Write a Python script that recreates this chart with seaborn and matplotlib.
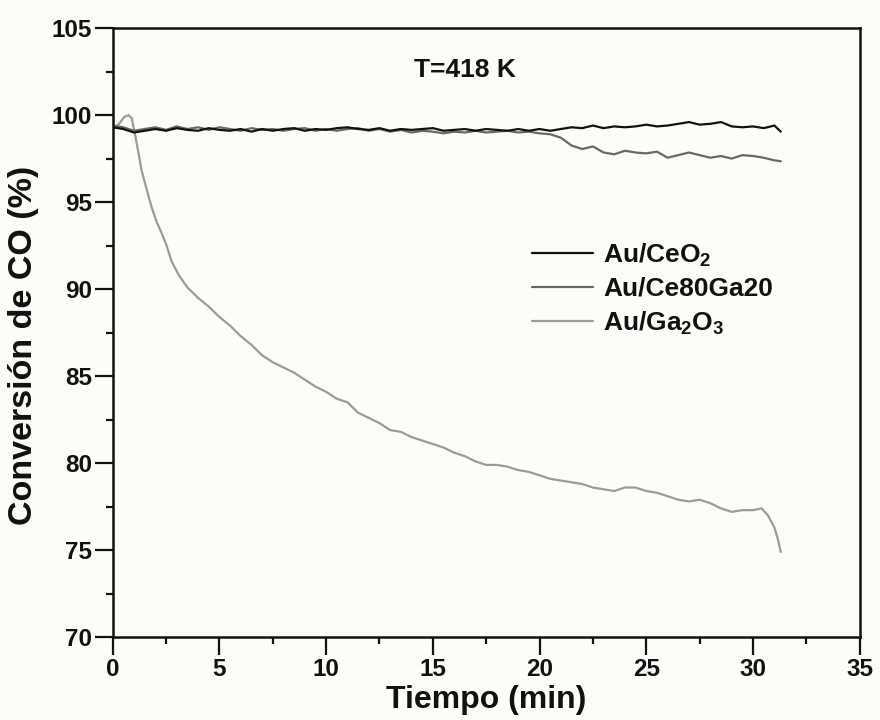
import numpy as np
import pandas as pd
import seaborn as sns
import matplotlib.pyplot as plt
from matplotlib.ticker import MultipleLocator
from matplotlib.lines import Line2D

########## Data

grid_time = list(np.arange(0, 31.01, 0.5)) + [31.3]

ceo2_conv = [99.3, 99.2, 99.0, 99.1, 99.2, 99.1, 99.25, 99.15, 99.1, 99.25,
             99.15, 99.1, 99.2, 99.05, 99.2, 99.1, 99.2, 99.25, 99.1, 99.2,
             99.15, 99.25, 99.3, 99.2, 99.15, 99.25, 99.1, 99.2, 99.15, 99.2,
             99.25, 99.1, 99.15, 99.2, 99.1, 99.2, 99.15, 99.1, 99.2, 99.1,
             99.2, 99.1, 99.2, 99.3, 99.25, 99.4, 99.25, 99.35, 99.3, 99.35,
             99.45, 99.35, 99.4, 99.5, 99.6, 99.45, 99.5, 99.6, 99.35, 99.3,
             99.35, 99.25, 99.4, 99.05]

ce80ga20_conv = [99.4, 99.3, 99.1, 99.2, 99.3, 99.15, 99.35, 99.2, 99.3, 99.15,
                 99.3, 99.2, 99.1, 99.25, 99.15, 99.2, 99.1, 99.2, 99.25, 99.1,
                 99.2, 99.1, 99.2, 99.25, 99.1, 99.2, 99.05, 99.15, 99.0, 99.1,
                 99.05, 98.95, 99.05, 99.0, 99.1, 99.0, 99.05, 99.1, 99.0, 99.05,
                 98.95, 98.9, 98.7, 98.25, 98.05, 98.2, 97.85, 97.75, 97.95, 97.85,
                 97.8, 97.9, 97.55, 97.7, 97.85, 97.7, 97.55, 97.65, 97.5, 97.7,
                 97.65, 97.55, 97.4, 97.35]

ga2o3_time = [0, 0.3, 0.55, 0.75, 0.9, 1.03, 1.2, 1.36, 1.6, 1.83, 2.05, 2.3, 2.5,
              2.76, 3.1, 3.5, 4.0, 4.5, 5.0, 5.5, 6.0, 6.5, 7.0, 7.5, 8.0, 8.5,
              9.0, 9.5, 10.0, 10.5, 11.0, 11.5, 12.0, 12.5, 13.0, 13.5, 14.0,
              14.5, 15.0, 15.5, 16.0, 16.5, 17.0, 17.5, 18.0, 18.5, 19.0, 19.5,
              20.0, 20.5, 21.0, 21.5, 22.0, 22.5, 23.0, 23.5, 24.0, 24.5, 25.0,
              25.5, 26.0, 26.5, 27.0, 27.5, 28.0, 28.5, 29.0, 29.5, 30.0, 30.4,
              30.7, 31.0, 31.15, 31.3]
ga2o3_conv = [99.2, 99.5, 99.9, 100.0, 99.8, 99.0, 97.9, 96.8, 95.7, 94.7, 93.9,
              93.2, 92.6, 91.6, 90.8, 90.1, 89.5, 89.0, 88.4, 87.9, 87.3, 86.8,
              86.2, 85.8, 85.5, 85.2, 84.8, 84.4, 84.1, 83.7, 83.5, 82.9, 82.6,
              82.3, 81.9, 81.8, 81.5, 81.3, 81.1, 80.9, 80.6, 80.4, 80.1, 79.9,
              79.9, 79.8, 79.6, 79.5, 79.3, 79.1, 79.0, 78.9, 78.8, 78.6, 78.5,
              78.4, 78.6, 78.6, 78.4, 78.3, 78.1, 77.9, 77.8, 77.9, 77.7, 77.4,
              77.2, 77.3, 77.3, 77.4, 77.0, 76.3, 75.7, 74.9]

series_names  = ["Au/CeO2", "Au/Ce80Ga20", "Au/Ga2O3"]
legend_labels = ["Au/CeO$_2$", "Au/Ce80Ga20", "Au/Ga$_2$O$_3$"]
series_colors = ["#111111", "#686868", "#9b9b9b"]

df = pd.concat([
    pd.DataFrame({"Tiempo": grid_time,  "Conv": ceo2_conv,     "Muestra": series_names[0]}),
    pd.DataFrame({"Tiempo": grid_time,  "Conv": ce80ga20_conv, "Muestra": series_names[1]}),
    pd.DataFrame({"Tiempo": ga2o3_time, "Conv": ga2o3_conv,    "Muestra": series_names[2]}),
], ignore_index=True)

########## Style

sns.set_style("ticks")
plt.rcParams['font.family']      = ['Liberation Sans', 'DejaVu Sans']
plt.rcParams['font.weight']      = 'bold'
plt.rcParams['text.color']       = '#111111'
plt.rcParams['axes.labelcolor']  = '#111111'
plt.rcParams['xtick.color']      = '#111111'
plt.rcParams['ytick.color']      = '#111111'
plt.rcParams['mathtext.fontset'] = 'custom'
plt.rcParams['mathtext.rm']      = 'Liberation Sans:bold'
plt.rcParams['mathtext.default'] = 'rm'

fig, ax = plt.subplots(figsize=(8.8, 7.2), dpi=100)
fig.patch.set_facecolor('#fdfdf8')
ax.set_facecolor('#fdfdf8')
fig.subplots_adjust(left=0.128, right=0.977, bottom=0.115, top=0.961)

# draw the Ga2O3 series first so the flat lines sit on top, as in the original
palette = dict(zip(series_names, series_colors))
for name in series_names[::-1]:
    sns.lineplot(data=df[df["Muestra"] == name], x="Tiempo", y="Conv", color=palette[name],
                 linewidth=1.6, estimator=None, sort=False, ax=ax, legend=False)

ax.set_xlim(0, 35)
ax.set_ylim(70, 105)
ax.xaxis.set_major_locator(MultipleLocator(5))
ax.xaxis.set_minor_locator(MultipleLocator(2.5))
ax.yaxis.set_major_locator(MultipleLocator(5))
ax.yaxis.set_minor_locator(MultipleLocator(2.5))
ax.tick_params(which='major', direction='out', length=13, width=1.6, pad=2, labelsize=17.5)
ax.tick_params(which='minor', direction='out', length=5, width=1.6)
for lab in ax.get_xticklabels() + ax.get_yticklabels():
    lab.set_fontweight('bold')
for sp in ax.spines.values():
    sp.set_linewidth(1.8)
    sp.set_color('#111111')

ax.set_xlabel("Tiempo (min)", fontsize=23, fontweight='bold', labelpad=3)
ax.set_ylabel("Conversión de CO (%)", fontsize=24.5, fontweight='bold')
ax.yaxis.set_label_coords(-0.098, 0.479)

ax.text(16.5, 102.6, "T=418 K", ha='center', va='center', fontsize=19, fontweight='bold')

handles = [Line2D([], [], color=c, linewidth=1.6) for c in series_colors]
ax.legend(handles, legend_labels, loc='center left', frameon=False, fontsize=19,
          handlelength=2.3, handletextpad=0.4, labelspacing=0.32, borderpad=0, borderaxespad=0,
          bbox_to_anchor=(532 / 880, 1 - 289 / 720), bbox_transform=fig.transFigure)

plt.savefig("out.png", dpi=100, facecolor=fig.get_facecolor())
